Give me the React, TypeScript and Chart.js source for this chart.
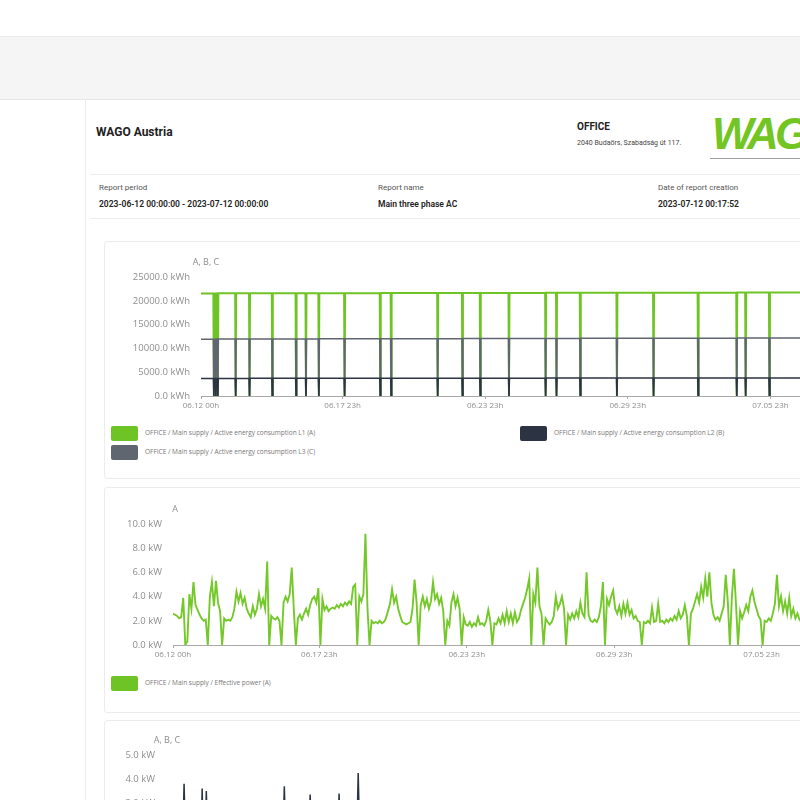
import React, { useEffect, useRef } from "react";
import { Chart, registerables } from "chart.js";

Chart.register(...registerables);

// ---------- DATA ----------
const tickHours = [0, 143, 287, 431, 575, 719];
const tickLabels = ["06.12 00h", "06.17 23h", "06.23 23h", "06.29 23h", "07.05 23h", "07.11 23h"];

// chart 1: cumulative active energy per phase (kWh); values drop to 0 at data gaps
const energyDropHours = [13, 15, 17, 35, 49, 72, 96, 106, 119, 145, 181, 192, 239, 264, 282, 311, 348, 359, 383, 420, 457, 502, 541, 550, 574, 610, 633, 671, 702];
const energyL1 = [21540, 21545, 21550, 21560, 21565, 21570, 21580, 21590, 21595, 21600, 21610, 21620, 21625, 21635, 21640, 21650, 21660, 21670, 21675, 21685, 21695, 21705, 21715, 21720, 21725, 21735, 21745, 21755, 21765, 21775];
const energyL2 = [3690, 3692, 3694, 3698, 3700, 3705, 3710, 3712, 3715, 3720, 3725, 3730, 3735, 3740, 3745, 3750, 3755, 3760, 3765, 3770, 3775, 3780, 3785, 3790, 3795, 3800, 3805, 3810, 3815, 3820];
const energyL3 = [11940, 11945, 11950, 11960, 11965, 11975, 11985, 11995, 12000, 12010, 12020, 12030, 12040, 12050, 12060, 12070, 12080, 12090, 12100, 12110, 12120, 12130, 12145, 12160, 12175, 12190, 12205, 12220, 12235, 12250];

// chart 2: effective power (kW), one value every 2 hours from 06.12 00h
const powerStepHours = 2;
const powerValues = [
  2.6, 2.5, 2.4, 2.2, 2.3, 3.9, 0, 0.3, 4.2, 3.0,
  5.2, 3.3, 2.9, 2.5, 2.2, 2.0, 2.1, 0, 4.0, 5.2,
  3.2, 5.3, 3.5, 2.8, 0, 2.2, 2.0, 2.1, 2.0, 2.3,
  3.0, 4.4, 3.6, 4.3, 3.4, 3.9, 3.0, 2.6, 2.3, 3.2,
  2.5, 3.0, 4.2, 3.2, 3.8, 3.0, 6.9, 0, 2.4, 2.2,
  2.1, 2.3, 2.0, 0, 3.5, 4.0, 3.6, 4.2, 6.4, 3.0,
  0, 2.2, 2.5, 2.1, 2.6, 3.0, 2.5, 3.3, 3.8, 4.0,
  3.5, 4.7, 0, 3.8, 2.9, 3.2, 2.8, 3.0, 3.1, 3.0,
  3.3, 3.1, 3.4, 3.2, 3.5, 3.3, 3.6, 3.4, 4.8, 5.0,
  0, 4.0, 3.6, 4.2, 9.2, 3.0, 0, 2.0, 1.8, 1.9,
  1.8, 2.0, 1.8, 1.9, 2.2, 2.8, 3.4, 4.6, 3.5, 4.0,
  3.0, 2.4, 1.9, 1.8, 1.7, 1.8, 1.9, 3.0, 5.4, 3.5,
  0, 3.3, 4.0, 3.2, 3.8, 3.0, 3.6, 5.2, 3.8, 4.2,
  3.4, 3.9, 2.8, 0, 2.0, 1.6, 3.5, 4.2, 3.2, 3.9,
  3.0, 0, 2.3, 1.7, 1.6, 1.9, 1.5, 1.8, 1.6, 2.3,
  1.7, 1.8, 1.6, 2.0, 2.9, 2.0, 0, 1.8, 1.7, 2.2,
  1.8, 2.5, 1.8, 2.8, 1.9, 2.6, 1.8, 2.7, 1.9, 2.2,
  2.9, 3.4, 3.9, 4.6, 5.5, 0, 4.2, 3.5, 6.4, 3.2,
  2.6, 0, 2.2, 1.9, 1.7, 1.9, 2.4, 4.0, 3.0, 3.4,
  4.0, 3.0, 0, 2.5, 2.1, 2.6, 2.2, 2.8, 2.3, 3.5,
  2.6, 2.3, 6.0, 2.5, 2.0, 1.9, 2.1, 1.9, 2.3, 3.2,
  5.2, 0, 3.8, 3.3, 4.0, 4.5, 3.0, 2.6, 3.2, 2.4,
  3.4, 2.6, 3.5, 2.5, 2.9, 2.2, 2.4, 2.0, 1.9, 0,
  1.9, 1.8, 2.0, 1.8, 3.1, 1.9, 2.0, 3.4, 1.9, 2.0,
  1.8, 2.1, 1.9, 2.2, 2.0, 2.4, 2.1, 2.8, 2.2, 2.5,
  3.3, 2.4, 0, 2.6, 3.0, 3.6, 4.2, 3.5, 4.8, 3.9,
  5.5, 4.0, 6.0, 3.5, 2.5, 2.1, 2.3, 2.0, 2.6, 3.2,
  5.8, 3.6, 0, 4.0, 6.3, 3.4, 0, 2.8, 2.2, 2.7,
  3.3, 2.8, 4.0, 4.5, 3.6, 3.0, 2.4, 2.1, 0, 2.0,
  1.9, 2.2, 2.0, 2.6, 3.4, 5.8, 3.2, 4.0, 2.8, 3.6,
  2.6, 3.9, 2.4, 3.0, 2.2, 2.6, 2.1, 1.9, 2.0, 1.8,
  2.2, 1.9, 2.5, 2.0, 1.8, 2.1, 3.0, 0, 2.4, 3.3,
  4.1, 3.6, 4.8, 3.2, 2.6, 2.2, 2.0, 1.9, 2.1, 1.8,
  2.3, 2.0, 0, 2.6, 3.1, 4.0, 3.4, 4.4, 5.1, 3.2,
  2.5, 2.1, 1.9, 2.0, 1.8, 2.2, 0, 2.4, 3.0, 3.8,
  3.3, 4.2, 3.1, 2.6, 2.2, 2.0, 1.9, 2.1, 1.8, 2.0, 1.9,
];

// chart 3: power per phase (kW)
const phaseAHours = [0, 120, 240, 360, 480, 600, 720];
const phaseAValues = [1.6, 1.8, 1.5, 1.7, 1.6, 1.8, 1.7];
const phaseBHours = [0, 10, 16, 17.5, 19, 28, 34, 35, 36, 38, 39, 40.5, 60, 90, 113, 114.5, 116, 138, 139.5, 141, 166, 167.5, 169, 184.5, 186, 187.5, 220, 260, 300, 340, 380, 420, 460, 500, 540, 580, 620, 660, 700, 720];
const phaseBValues = [1.1, 1.3, 1.2, 3.8, 1.1, 1.4, 1.2, 3.6, 1.3, 1.2, 3.5, 1.1, 1.5, 1.3, 1.2, 3.7, 1.2, 1.3, 3.35, 1.2, 1.3, 3.4, 1.1, 1.2, 4.25, 1.3, 1.4, 1.2, 1.5, 1.3, 1.2, 1.4, 1.3, 1.2, 1.5, 1.3, 1.2, 1.4, 1.3, 1.2];
const phaseCHours = [0, 120, 240, 360, 480, 600, 720];
const phaseCValues = [0.9, 1.0, 0.8, 1.1, 0.9, 1.0, 0.9];

const GREEN = "#6fc425";
const LIGHTGREEN = "#74c82a";
const DARK = "#2c3342";
const GRAY = "#5f6670";
const TICK = "#8e8e8e";

// ---------- helpers ----------
function energySeries(levels: number[]) {
  const pts: { x: number; y: number }[] = [{ x: 0, y: levels[0] }];
  energyDropHours.forEach((h, k) => {
    pts.push({ x: h - 0.5, y: levels[k] }, { x: h, y: 0 }, { x: h + 0.5, y: levels[k + 1] });
  });
  pts.push({ x: 720, y: levels[levels.length - 1] });
  return pts;
}
function zip(hours: number[], values: number[]) {
  return hours.map((h, i) => ({ x: h, y: values[i] }));
}

const topTitle = {
  id: "topTitle",
  afterDraw(chart: any, _a: any, opts: any) {
    const { ctx, chartArea } = chart;
    ctx.save();
    ctx.font = '9px "Open Sans"';
    ctx.fillStyle = TICK;
    ctx.textAlign = "center";
    ctx.textBaseline = "middle";
    ctx.fillText(opts.text, chartArea.left + opts.dx, chartArea.top + opts.dy);
    ctx.restore();
  },
};

function makeConfig(p: {
  datasets: any[];
  yWidth: number;
  padTop: number;
  yMax: number;
  yStep: number;
  unit: string;
  title: string;
  titleDx: number;
}) {
  return {
    type: "line",
    data: { datasets: p.datasets },
    plugins: [topTitle],
    options: {
      animation: false,
      responsive: false,
      events: [],
      layout: { padding: { top: p.padTop, left: 0, right: 0, bottom: 0 } },
      elements: { point: { radius: 0 }, line: { tension: 0 } },
      plugins: {
        legend: { display: false },
        tooltip: { enabled: false },
        topTitle: { text: p.title, dx: p.titleDx, dy: -15 },
      },
      scales: {
        x: {
          type: "linear",
          min: 0,
          max: 720,
          afterBuildTicks: (axis: any) => {
            axis.ticks = tickHours.map((v) => ({ value: v }));
          },
          afterFit: (axis: any) => {
            axis.height = 20;
            axis.paddingLeft = 0;
            axis.paddingRight = 0;
          },
          ticks: {
            autoSkip: false,
            maxRotation: 0,
            padding: 2,
            color: TICK,
            font: { family: "Open Sans", size: 8 },
            callback: (_v: any, i: number) => tickLabels[i],
          },
          grid: { display: true, drawOnChartArea: false, drawTicks: true, tickLength: 3, color: "#a8a8a8" },
          border: { display: true, color: "#a8a8a8" },
        },
        y: {
          min: 0,
          max: p.yMax,
          afterFit: (axis: any) => {
            axis.width = p.yWidth;
            axis.paddingTop = 0;
            axis.paddingBottom = 0;
          },
          ticks: {
            stepSize: p.yStep,
            padding: 3,
            color: TICK,
            font: { family: "Open Sans", size: 9.5 },
            callback: (v: any) => Number(v).toFixed(1) + " " + p.unit,
          },
          grid: { display: false },
          border: { display: false },
        },
      },
    },
  };
}

function ChartBox(props: { config: any; left: number; top: number; width: number; height: number }) {
  const ref = useRef<HTMLCanvasElement>(null);
  useEffect(() => {
    const chart = new Chart(ref.current as HTMLCanvasElement, props.config);
    return () => chart.destroy();
  }, []);
  return (
    <canvas
      ref={ref}
      width={props.width}
      height={props.height}
      style={{ position: "absolute", left: props.left, top: props.top, width: props.width, height: props.height }}
    />
  );
}

function Txt(props: { x: number; y: number; size: number; bold?: boolean; color?: string; children: any; family?: string; weight?: number }) {
  return (
    <div
      style={{
        position: "absolute",
        left: props.x,
        top: props.y - props.size / 2,
        fontSize: props.size,
        lineHeight: 1,
        fontWeight: props.weight || (props.bold ? 700 : 400),
        color: props.color || "#222",
        fontFamily: props.family || "Roboto, 'Open Sans', sans-serif",
        whiteSpace: "nowrap",
      }}
    >
      {props.children}
    </div>
  );
}

function LegendItem(props: { x: number; y: number; color: string; label: string }) {
  return (
    <>
      <div
        style={{ position: "absolute", left: props.x, top: props.y, width: 27, height: 15, background: props.color, borderRadius: 2 }}
      />
      <Txt x={props.x + 34} y={props.y + 7.5} size={6.5} color="#777" family="'Open Sans', sans-serif">
        {props.label}
      </Txt>
    </>
  );
}

function Line(props: { x: number; y: number; w: number; h: number; c: string }) {
  return <div style={{ position: "absolute", left: props.x, top: props.y, width: props.w, height: props.h, background: props.c }} />;
}

export default function App() {
  const energyConfig = makeConfig({
    datasets: [
      { label: "L1 (A)", data: energySeries(energyL1), borderColor: GREEN, borderWidth: 2, order: 3 },
      { label: "L2 (B)", data: energySeries(energyL2), borderColor: DARK, borderWidth: 1.5, order: 1 },
      { label: "L3 (C)", data: energySeries(energyL3), borderColor: GRAY, borderWidth: 1.5, order: 2 },
    ],
    yWidth: 97,
    padTop: 27,
    yMax: 25000,
    yStep: 5000,
    unit: "kWh",
    title: "A, B, C",
    titleDx: 5,
  });
  const powerConfig = makeConfig({
    datasets: [
      {
        label: "Effective power (A)",
        data: powerValues.map((v, i) => ({ x: i * powerStepHours, y: v })),
        borderColor: LIGHTGREEN,
        borderWidth: 1.9,
      },
    ],
    yWidth: 69,
    padTop: 24,
    yMax: 10,
    yStep: 2,
    unit: "kW",
    title: "A",
    titleDx: 2,
  });
  const phaseConfig = makeConfig({
    datasets: [
      { label: "A", data: zip(phaseAHours, phaseAValues), borderColor: GREEN, borderWidth: 1.5, order: 3 },
      { label: "B", data: zip(phaseBHours, phaseBValues), borderColor: DARK, borderWidth: 1.5, order: 1 },
      { label: "C", data: zip(phaseCHours, phaseCValues), borderColor: GRAY, borderWidth: 1.5, order: 2 },
    ],
    yWidth: 62,
    padTop: 24,
    yMax: 5,
    yStep: 1,
    unit: "kW",
    title: "A, B, C",
    titleDx: 1,
  });

  return (
    <div style={{ position: "fixed", left: 0, top: 0, width: 800, height: 800, overflow: "hidden", background: "#fff" }}>
      {/* top band */}
      <div style={{ position: "absolute", left: 0, top: 36, width: 800, height: 62, background: "#f5f5f5", borderTop: "1px solid #ececec", borderBottom: "1px solid #e6e6e6" }} />
      <Line x={85} y={99} w={1} h={701} c="#ececec" />

      {/* report header */}
      <Txt x={96} y={132} size={12} bold>WAGO Austria</Txt>
      <Txt x={577} y={127} size={10} bold>OFFICE</Txt>
      <Txt x={577} y={143} size={7} color="#444">2040 Budaörs, Szabadság út 117.</Txt>
      <div
        style={{
          position: "absolute",
          left: 712,
          top: 112,
          fontSize: 44,
          lineHeight: 1,
          fontWeight: 900,
          fontStyle: "italic",
          letterSpacing: -4,
          color: "#72c522",
          fontFamily: "'Liberation Sans', Arial, sans-serif",
        }}
      >
        WAGO
      </div>
      <Line x={710} y={158} w={90} h={1} c="#a0a0a0" />
      <Line x={90} y={174} w={710} h={1} c="#eeeeee" />
      <Txt x={99} y={188} size={8} color="#555">Report period</Txt>
      <Txt x={99} y={204} size={8.5} weight={600}>2023-06-12 00:00:00 - 2023-07-12 00:00:00</Txt>
      <Txt x={378} y={188} size={8} color="#555">Report name</Txt>
      <Txt x={378} y={204} size={8.5} weight={600}>Main three phase AC</Txt>
      <Txt x={658} y={188} size={8} color="#555">Date of report creation</Txt>
      <Txt x={658} y={204} size={8.5} weight={600}>2023-07-12 00:17:52</Txt>
      <Line x={90} y={218} w={710} h={1} c="#eeeeee" />

      {/* card 1 */}
      <div style={{ position: "absolute", left: 104, top: 241, width: 830, height: 236, border: "1px solid #ececec", borderRadius: 3 }} />
      <ChartBox config={energyConfig} left={104} top={250} width={810} height={166} />
      <LegendItem x={111} y={426} color={GREEN} label="OFFICE / Main supply / Active energy consumption L1 (A)" />
      <LegendItem x={520} y={426} color={DARK} label="OFFICE / Main supply / Active energy consumption L2 (B)" />
      <LegendItem x={111} y={445} color={GRAY} label="OFFICE / Main supply / Active energy consumption L3 (C)" />

      {/* card 2 */}
      <div style={{ position: "absolute", left: 104, top: 487, width: 830, height: 224, border: "1px solid #ececec", borderRadius: 3 }} />
      <ChartBox config={powerConfig} left={104} top={500} width={806} height={165} />
      <LegendItem x={111} y={676} color={GREEN} label="OFFICE / Main supply / Effective power (A)" />

      {/* card 3 */}
      <div style={{ position: "absolute", left: 104, top: 720, width: 830, height: 240, border: "1px solid #ececec", borderRadius: 3 }} />
      <ChartBox config={phaseConfig} left={104} top={731} width={806} height={164} />
    </div>
  );
}
